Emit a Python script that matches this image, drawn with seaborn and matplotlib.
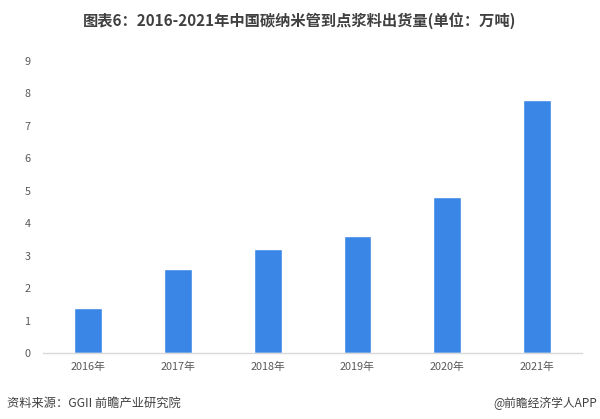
import matplotlib
matplotlib.use("Agg")
import matplotlib.pyplot as plt
import seaborn as sns
import pandas as pd

years = ["2016年", "2017年", "2018年", "2019年", "2020年", "2021年"]
values = [1.4, 2.6, 3.2, 3.6, 4.8, 7.8]
yticks = [0, 1, 2, 3, 4, 5, 6, 7, 8, 9]

title = "图表6：2016-2021年中国碳纳米管到点浆料出货量(单位：万吨)"
source = "资料来源：GGII 前瞻产业研究院"
credit = "@前瞻经济学人APP"

sns.set_theme(style="white")
plt.rcParams['font.family'] = ['Noto Sans CJK SC', 'DejaVu Sans']

df = pd.DataFrame({"year": years, "value": values})

fig = plt.figure(figsize=(6, 4.19), dpi=100)
ax = fig.add_axes([0.0717, 0.1575, 0.8983, 0.6969])
sns.barplot(data=df, x="year", y="value", color="#3a86e6", width=0.31,
            saturation=1, ax=ax)

ax.set_ylim(0, 9)
ax.set_yticks(yticks)
ax.set_xlabel("")
ax.set_ylabel("")
for s in ["top", "right", "left"]:
    ax.spines[s].set_visible(False)
ax.spines["bottom"].set_color("#d9d9d9")
ax.spines["bottom"].set_linewidth(1)
ax.tick_params(axis="both", length=0, labelsize=7.8, colors="#595959")
ax.tick_params(axis="y", pad=9)
ax.tick_params(axis="x", pad=6)
ax.grid(False)

fig.text(0.5, 0.952, title, ha="center", va="center", fontsize=11,
         fontweight="bold", color="#404040")
fig.text(0.012, 0.038, source, ha="left", va="center", fontsize=8.8, color="#404040")
fig.text(0.995, 0.038, credit, ha="right", va="center", fontsize=8.5, color="#404040")

fig.savefig("out.png", dpi=100, facecolor="white")
